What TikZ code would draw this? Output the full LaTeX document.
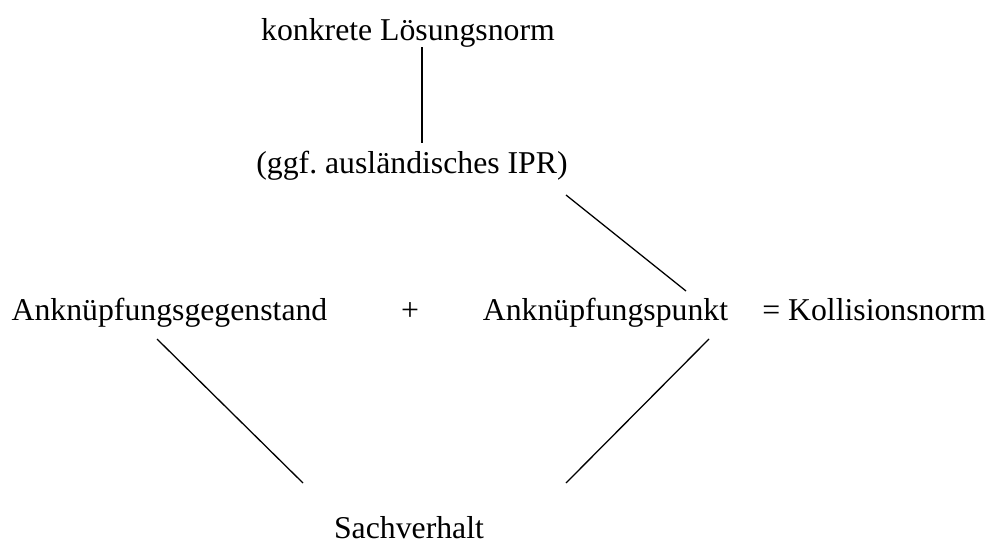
\documentclass[tikz,border=0pt]{standalone}
\usepackage{fontspec}
\setmainfont{Liberation Serif}
\frenchspacing
\begin{document}
\begin{tikzpicture}[x=1pt,y=-1pt,
  lbl/.style={inner sep=0pt,outer sep=0pt,anchor=base,font=\fontsize{31.75}{38}\selectfont},
  conn/.style={draw=black,line width=1.3pt}]
\useasboundingbox (0,0) rectangle (990,544);
\node[lbl] (top) at (408,40) {konkrete Lösungsnorm};
\node[lbl] (ipr) at (412,173) {(ggf.\ ausländisches IPR)};
\node[lbl] (gegen) at (169.5,320) {Anknüpfungsgegenstand};
\node[lbl] (plus) at (410,320) {+};
\node[lbl] (punkt) at (605.5,320) {Anknüpfungspunkt};
\node[lbl] (koll) at (874,320) {= Kollisionsnorm};
\node[lbl] (sach) at (409,538) {Sachverhalt};
\coordinate (topE) at (422,47);
\coordinate (iprN) at (422,143);
\coordinate (iprE) at (566,195);
\coordinate (punktN) at (686,291);
\coordinate (gegenS) at (157,339);
\coordinate (sachW) at (303,483);
\coordinate (punktS) at (709,339);
\coordinate (sachE) at (566,483);
\draw[conn] (topE) -- (iprN);
\draw[conn] (iprE) -- (punktN);
\draw[conn] (gegenS) -- (sachW);
\draw[conn] (punktS) -- (sachE);
\end{tikzpicture}
\end{document}
